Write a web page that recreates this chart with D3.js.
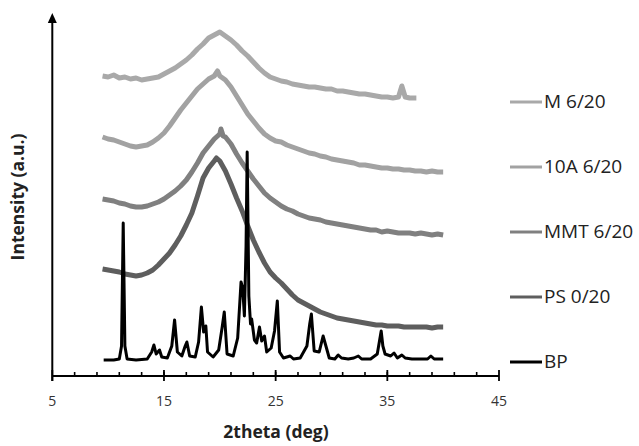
<!DOCTYPE html>
<html lang="en">
<head>
<meta charset="utf-8">
<title>XRD</title>
<script src="https://cdn.jsdelivr.net/npm/d3@7"></script>
<style>
  body { margin: 0; background: #fff; }
  text { font-family: "Open Sans", sans-serif; }
</style>
</head>
<body>
<script type="text/javascript">

var width = 639;
var height = 446;

// series names, top to bottom in the legend
var names = ["M 6/20", "10A 6/20", "MMT 6/20", "PS 0/20", "BP"];
var colors = ["#a9a9a9", "#a2a2a2", "#808080", "#5e5e5e", "#000000"];

var xTicks = [5, 15, 25, 35, 45];

// [2theta, intensity a.u.]
var m620 = [[9.5,300],[10,299],[10.5,301],[11,298],[11.5,299],[12,297],[12.5,298],[13,296],[13.5,297],[14,298],
  [14.5,299],[15,302],[15.5,305],[16,308],[16.5,312],[17,316],[17.5,321],[18,327],[18.5,332],[19,338],[19.5,341],
  [20,344],[20.5,340],[21,336],[21.5,331],[22,325],[22.5,320],[23,314],[23.5,308],[24,303],[24.5,299],[25,297],
  [25.5,295],[26,294],[26.5,292],[27,291],[27.5,290],[28,289],[28.5,289],[29,288],[29.5,287],[30,287],[30.5,285],
  [31,285],[31.5,284],[32,283],[32.5,282],[33,282],[33.5,281],[34,280],[34.5,279],[35,279],[35.5,278],[36,279],
  [36.3,290],[36.6,279],[37,278],[37.6,278]];

var a10620 = [[9.5,239],[10,237],[10.5,236],[11,234],[11.5,232],[12,230],[12.5,229],[13,230],[13.5,231],[14,234],
  [14.5,238],[15,243],[15.5,250],[16,258],[16.5,266],[17,273],[17.5,280],[18,287],[18.5,292],[19,297],[19.5,300],
  [19.8,305],[20,300],[20.5,296],[21,289],[21.5,280],[22,271],[22.5,262],[23,255],[23.5,248],[24,242],[24.5,238],
  [25,235],[25.5,234],[26,231],[26.5,229],[27,227],[27.5,225],[28,223],[28.5,222],[29,220],[29.5,219],[30,217],
  [30.5,216],[31,215],[31.5,214],[32,213],[32.5,211],[33,211],[33.5,210],[34,209],[34.5,208],[35,208],[35.5,207],
  [36,207],[36.5,206],[37,206],[37.5,205],[38,205],[38.5,204],[39,205],[39.5,204],[40,204]];

var mmt620 = [[9.5,177],[10,176],[10.5,175],[11,173],[11.5,172],[12,170],[12.5,169],[13,169],[13.5,170],[14,172],
  [14.5,174],[15,177],[15.5,181],[16,185],[16.5,190],[17,196],[17.5,204],[18,213],[18.5,223],[19,230],[19.5,237],
  [20,242],[20.1,247],[20.3,240],[20.5,239],[21,232],[21.5,222],[22,213],[22.5,205],[23,197],[23.5,190],[24,183],
  [24.5,178],[25,174],[25.5,170],[26,167],[26.5,165],[27,162],[27.5,160],[28,158],[28.5,157],[29,156],[29.5,154],
  [30,153],[30.5,152],[31,151],[31.5,150],[32,149],[32.5,148],[33,147],[33.5,146],[34,146],[34.5,144],[35,145],
  [35.5,144],[36,143],[36.5,143],[37,143],[37.5,142],[38,143],[38.5,142],[39,141],[39.5,142],[40,141]];

var ps020 = [[9.5,107],[10,106],[10.5,105],[11,104],[11.5,102],[12,101],[12.5,100],[13,101],[13.5,103],[14,106],
  [14.5,111],[15,117],[15.5,123],[16,131],[16.5,140],[17,151],[17.5,163],[18,180],[18.5,198],[19,208],[19.5,215],
  [19.7,218],[20,215],[20.5,205],[21,192],[21.5,178],[22,165],[22.5,150],[23,136],[23.5,124],[24,113],[24.5,104],
  [25,98],[25.5,93],[26,87],[26.5,81],[27,76],[27.5,73],[28,70],[28.5,67],[29,64],[29.5,62],[30,60],[30.5,58],
  [31,57],[31.5,56],[32,55],[32.5,54],[33,53],[33.5,52],[34,51],[34.5,51],[35,50],[35.5,50],[36,50],[36.5,49],
  [37,49],[37.5,49],[38,49],[38.5,49],[39,48],[39.5,49],[40,49]];

var bp = [[9.6,16],[10.5,16],[11.0,17],[11.2,30],[11.35,153],[11.5,30],[11.7,17],[12.5,16],[13.5,17],[13.9,24],
  [14.1,31],[14.3,22],[14.6,26],[14.8,19],[15.3,18],[15.7,30],[15.95,56],[16.2,24],[16.6,20],[16.9,30],[17.05,34],
  [17.3,20],[17.8,19],[18.1,34],[18.35,69],[18.55,44],[18.75,50],[18.9,24],[19.4,19],[19.9,26],[20.2,48],[20.4,64],
  [20.65,22],[21.2,20],[21.6,38],[21.9,94],[22.05,88],[22.2,60],[22.35,130],[22.45,224],[22.6,80],[22.75,52],
  [22.85,57],[23.1,36],[23.3,33],[23.55,49],[23.75,35],[24.0,40],[24.2,24],[24.6,28],[24.9,45],[25.15,75],[25.35,24],
  [25.7,18],[26.3,20],[26.6,17],[27.2,18],[27.8,30],[28.05,52],[28.2,62],[28.45,25],[28.9,24],[29.25,40],[29.45,32],
  [29.8,18],[30.3,17],[30.6,21],[30.9,18],[31.5,17],[32.0,18],[32.4,20],[32.7,17],[33.5,17],[34.1,22],[34.45,45],
  [34.6,30],[34.8,22],[35.3,20],[35.6,23],[35.9,18],[36.3,21],[36.6,18],[37.2,17],[38.0,17],[38.6,17],[38.9,20],
  [39.2,17],[40.0,17]];

var series = [m620, a10620, mmt620, ps020, bp];

var svg = d3.select("body").append("svg")
  .attr("width", width)
  .attr("height", height);

var x = d3.scaleLinear().domain([5, 45]).range([52.3, 499]);
var y = d3.scaleLinear().domain([0, 362]).range([376, 14]);

var line = d3.line()
  .x(function(d) { return x(d[0]); })
  .y(function(d) { return y(d[1]); });

// curves
series.forEach(function(s, i) {
  svg.append("path")
    .attr("d", line(s))
    .attr("fill", "none")
    .attr("stroke", colors[i])
    .attr("stroke-width", i == 4 ? 3 : 5)
    .attr("stroke-linejoin", "round");
});

// x axis with minor ticks every 2
var xAxis = svg.append("g");
xAxis.append("line")
  .attr("x1", x(5)).attr("x2", x(45))
  .attr("y1", y(0)).attr("y2", y(0))
  .attr("stroke", "#000").attr("stroke-width", 2);
d3.range(7, 45, 2).forEach(function(t) {
  xAxis.append("line")
    .attr("x1", x(t)).attr("x2", x(t))
    .attr("y1", y(0) - 4).attr("y2", y(0))
    .attr("stroke", "#000").attr("stroke-width", 1.6);
});
xTicks.forEach(function(t) {
  xAxis.append("line")
    .attr("x1", x(t)).attr("x2", x(t))
    .attr("y1", y(0) - 6).attr("y2", y(0) + 5)
    .attr("stroke", "#000").attr("stroke-width", 1.8);
  xAxis.append("text")
    .attr("x", x(t)).attr("y", 402)
    .attr("text-anchor", "middle")
    .attr("dominant-baseline", "middle")
    .attr("font-size", 14)
    .attr("fill", "#333")
    .text(t);
});

// y axis with arrow
svg.append("line")
  .attr("x1", x(5)).attr("x2", x(5))
  .attr("y1", y(0) + 5).attr("y2", 20)
  .attr("stroke", "#000").attr("stroke-width", 2);
svg.append("path")
  .attr("d", "M" + x(5) + ",13 L" + (x(5) - 4.5) + ",23 L" + (x(5) + 4.5) + ",23 Z")
  .attr("fill", "#000");

// axis titles
svg.append("text")
  .attr("x", 276).attr("y", 433)
  .attr("text-anchor", "middle")
  .attr("dominant-baseline", "middle")
  .attr("font-size", 17.5)
  .attr("font-weight", "bold")
  .attr("fill", "#222")
  .text("2theta (deg)");
svg.append("text")
  .attr("transform", "translate(19,197) rotate(-90)")
  .attr("text-anchor", "middle")
  .attr("dominant-baseline", "middle")
  .attr("font-size", 17.5)
  .attr("font-weight", "bold")
  .attr("fill", "#222")
  .text("Intensity (a.u.)");

// legend
var legendY = [102, 167, 232, 297, 362];
names.forEach(function(n, i) {
  svg.append("line")
    .attr("x1", 510).attr("x2", 542)
    .attr("y1", legendY[i]).attr("y2", legendY[i])
    .attr("stroke", colors[i])
    .attr("stroke-width", 3);
  svg.append("text")
    .attr("x", 544).attr("y", legendY[i] + 1)
    .attr("dominant-baseline", "middle")
    .attr("font-size", 19)
    .attr("fill", "#222")
    .text(n);
});
</script>
</body>
</html>
